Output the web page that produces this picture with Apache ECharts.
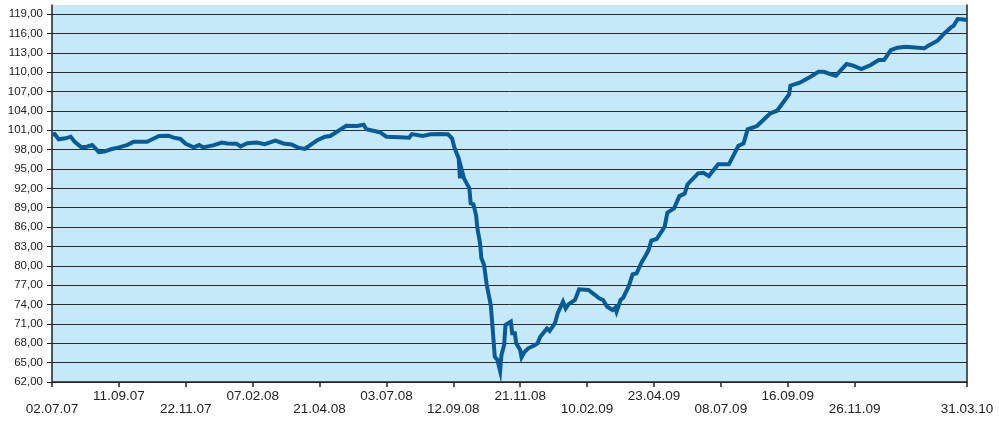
<!DOCTYPE html>
<html>
<head>
<meta charset="utf-8">
<title>Kursverlauf</title>
<script src="https://cdn.jsdelivr.net/npm/echarts@6/dist/echarts.min.js"></script>
<style>
  html, body { margin: 0; padding: 0; background: #fff; }
  #chart { width: 999px; height: 421px; }
</style>
</head>
<body>
<div id="chart"></div>
<script>
// trading-day index of each traced point (50 trading days between date labels)
const days = [0, 2, 5, 10, 14, 17, 22, 26, 30, 32, 35, 39, 44, 50, 56, 61, 71, 75, 80, 87,
  91, 96, 100, 106, 110, 113, 121, 127, 131, 138, 141, 146, 153, 159, 167, 173, 179, 184, 189, 193,
  198, 204, 208, 213, 220, 228, 233, 235, 240, 245, 250, 260, 267, 269, 277, 283, 290, 296, 299, 301,
  304, 305, 306, 308, 310, 312, 313, 315, 317, 318, 320, 321, 323, 325, 328, 329, 331, 333, 335, 336,
  338, 339, 343, 344, 346, 347, 350, 351, 353, 356, 360, 363, 365, 370, 372, 376, 378, 382, 384, 386,
  391, 394, 401, 406, 409, 412, 415, 419, 421, 422, 425, 427, 431, 434, 437, 441, 444, 446, 448, 452,
  458, 460, 465, 469, 473, 475, 483, 487, 491, 498, 506, 513, 517, 520, 527, 537, 542, 551, 552, 559,
  567, 573, 577, 584, 586, 594, 599, 605, 612, 618, 622, 627, 632, 638, 652, 655, 662, 667, 672, 674,
  677, 680, 684];

const prices = [100.3, 100.4, 99.6, 99.75, 100.0, 99.2, 98.35, 98.45, 98.7, 98.3,
  97.6, 97.7, 98.05, 98.35, 98.7, 99.2, 99.2, 99.6, 100.1, 100.15,
  99.85, 99.65, 98.9, 98.35, 98.7, 98.35, 98.7, 99.1, 98.95, 98.9,
  98.5, 99.0, 99.1, 98.85, 99.4, 98.95, 98.8, 98.3, 98.1, 98.7,
  99.4, 100.0, 100.1, 100.77, 101.7, 101.65, 101.85, 101.14, 100.93, 100.7,
  100.0, 99.9, 99.85, 100.4, 100.1, 100.37, 100.4, 100.37, 99.75, 98.2,
  96.65, 93.55, 95.1, 93.55, 92.77, 92.0, 89.68, 89.52, 87.87, 85.8,
  83.48, 81.16, 80.12, 77.02, 73.93, 71.34, 65.92, 65.41, 63.7, 66.2,
  67.73, 70.83, 71.34, 69.54, 69.54, 67.99, 66.95, 65.82, 66.6, 67.22,
  67.6, 67.99, 69.0, 70.3, 69.9, 71.1, 72.63, 74.44, 73.4, 74.03,
  74.7, 76.35, 76.25, 75.47, 74.96, 74.7, 73.66, 73.15, 73.5, 72.89,
  74.7, 75.06, 76.76, 78.68, 78.84, 80.63, 81.67, 82.45, 83.89, 84.15,
  86.06, 88.23, 88.9, 90.8, 91.2, 92.6, 94.33, 94.42, 93.9, 95.72,
  95.72, 98.55, 98.96, 101.14, 101.65, 103.62, 104.02, 106.56, 107.9, 108.36,
  109.29, 110.06, 110.06, 109.55, 109.45, 111.26, 111.0, 110.48, 111.1, 111.87,
  111.87, 113.42, 113.78, 113.94, 113.69, 114.09, 114.87, 116.0, 116.93, 117.19,
  118.23, 118.18, 118.07];

const dateLabels = ['02.07.07', '11.09.07', '22.11.07', '07.02.08', '21.04.08', '03.07.08',
  '12.09.08', '21.11.08', '10.02.09', '23.04.09', '08.07.09', '16.09.09', '26.11.09',
  '12.02.10', '31.03.10'];

const dayStep = 50;
const lastDay = 684;

const yMin = 62;
const yTop = 120.4;
const yStep = 3;

const chart = echarts.init(document.getElementById('chart'), null, { renderer: 'canvas' });

const ink = '#222';
const font = 'Arial, "Liberation Sans", sans-serif';

chart.setOption({
  animation: false,
  backgroundColor: '#fff',
  grid: {
    left: 52, right: 32, top: 5, bottom: 39,
    containLabel: false,
    outerBoundsMode: 'none',
    show: true,
    backgroundColor: '#c6e9f9',
    borderWidth: 0,
  },
  xAxis: {
    type: 'value',
    min: 0,
    max: lastDay,
    interval: dayStep,
    axisLine: { show: true, lineStyle: { color: ink, width: 1.5 } },
    axisTick: { show: true, length: 5, lineStyle: { color: ink, width: 1.5 } },
    splitLine: { show: false },
    axisLabel: {
      color: ink,
      fontFamily: font,
      fontSize: 13.5,
      lineHeight: 13,
      margin: 8,
      showMinLabel: true,
      showMaxLabel: true,
      formatter(value) {
        const i = value >= lastDay ? dateLabels.length - 1 : Math.round(value / dayStep);
        const text = dateLabels[i] ?? '';
        return i % 2 === 0 ? '\n' + text : text;
      },
    },
  },
  yAxis: [
    {
      type: 'value',
      min: yMin,
      max: yTop,
      interval: yStep,
      axisLine: { show: true, lineStyle: { color: ink, width: 1.5 } },
      axisTick: { show: true, length: 5, inside: false, lineStyle: { color: ink, width: 1 } },
      splitLine: { show: true, showMaxLine: false, lineStyle: { color: '#2b2b2b', width: 1 } },
      axisLabel: {
        color: ink,
        fontFamily: font,
        fontSize: 11.5,
        margin: 9,
        showMaxLabel: false,
        formatter(value) {
          if (value > 119.5) return '';
          return value.toFixed(2).replace('.', ',');
        },
      },
    },
    {
      type: 'value',
      position: 'right',
      min: yMin,
      max: yTop,
      interval: yStep,
      axisLine: { show: true, lineStyle: { color: ink, width: 1.5 } },
      axisTick: { show: false },
      axisLabel: { show: false },
      splitLine: { show: false },
    },
  ],
  series: [
    {
      type: 'line',
      showSymbol: false,
      smooth: false,
      lineStyle: { color: '#075b98', width: 4, join: 'miter' },
      data: days.map((d, i) => [d, prices[i]]),
    },
  ],
});
</script>
</body>
</html>
